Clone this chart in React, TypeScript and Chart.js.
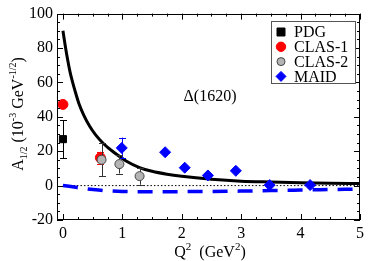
import React, { useEffect, useRef } from "react";
import { Chart, registerables } from "chart.js";

Chart.register(...registerables);

// ---- data ----
const pdgQ2 = [0];
const pdgA = [27];
const pdgErr = [11];

const clas1Q2 = [0, 0.63];
const clas1A = [47.2, 16.2];
const clas1Err = [0, 3.5];

const clas2Q2 = [0.65, 0.95, 1.29];
const clas2A = [15, 12.5, 5.5];
const clas2Err = [9.7, 5.5, 5];

const maidQ2 = [0.99, 1.72, 2.05, 2.44, 2.91, 3.48, 4.16];
const maidA = [21.9, 19.4, 10.4, 5.9, 8.6, 0.3, 0.3];
const maidErr = [6, 0, 0, 0, 0, 0, 0];

const fitQ2 = [0, 0.04, 0.08, 0.12, 0.16, 0.2, 0.27, 0.35, 0.45, 0.55, 0.68, 0.85, 1.07, 1.29, 1.5, 1.75, 2.0, 2.5, 3.0, 3.5, 4.0, 4.5, 5.0];
const fitA = [90, 81, 73, 66, 60.5, 55.5, 47.6, 41, 34.5, 29.5, 24.5, 19.5, 14.2, 10.5, 8.3, 6.6, 5.4, 3.7, 2.6, 2.1, 1.7, 1.4, 1.2];

const maidCurveQ2 = [0, 0.1, 0.25, 0.4, 0.6, 0.8, 1.0, 1.3, 1.7, 2.0, 2.5, 3.0, 3.5, 4.0, 4.5, 5.0];
const maidCurveA = [0, -0.4, -1.2, -1.9, -2.6, -3.1, -3.4, -3.6, -3.6, -3.5, -3.4, -3.2, -2.9, -2.6, -2.3, -2.0];

const zeroQ2 = [0, 5];
const zeroA = [0, 0];

const xTicks = [0, 1, 2, 3, 4, 5];
const yTicks = [-20, 0, 20, 40, 60, 80, 100];
const xMinorStep = 0.25;
const yMinorStep = 5;
const xRange = [-0.1, 5];
const yRange = [-20, 100];

const legendLabels = ["PDG", "CLAS-1", "CLAS-2", "MAID"];
const annotationText = "\u0394(1620)";

const SERIF = '"Liberation Serif", "Times New Roman", serif';

const pts = (xs: number[], ys: number[]) => xs.map((x, i) => ({ x, y: ys[i] }));

function drawMarker(ctx: CanvasRenderingContext2D, kind: string, x: number, y: number, r: number, fill: string, stroke: string) {
  ctx.save();
  ctx.fillStyle = fill;
  ctx.strokeStyle = stroke;
  ctx.lineWidth = 1;
  ctx.beginPath();
  if (kind === "rect") {
    ctx.rect(x - r, y - r, 2 * r, 2 * r);
  } else if (kind === "circle") {
    ctx.arc(x, y, r, 0, Math.PI * 2);
  } else {
    ctx.moveTo(x, y - r);
    ctx.lineTo(x + r, y);
    ctx.lineTo(x, y + r);
    ctx.lineTo(x - r, y);
    ctx.closePath();
  }
  ctx.fill();
  ctx.stroke();
  ctx.restore();
}

const errorBarPlugin = {
  id: "errorBars",
  beforeDatasetDraw(chart: any, args: any) {
    const ds = chart.data.datasets[args.index];
    if (!ds.errors) return;
    const ctx = chart.ctx;
    const xs = chart.scales.x;
    const ys = chart.scales.y;
    ctx.save();
    ctx.strokeStyle = ds.errorColor;
    ctx.lineWidth = 1;
    ds.data.forEach((p: any, i: number) => {
      const e = ds.errors[i];
      if (!e) return;
      const px = Math.round(xs.getPixelForValue(p.x)) + 0.5;
      const y1 = ys.getPixelForValue(p.y + e);
      const y2 = ys.getPixelForValue(p.y - e);
      ctx.beginPath();
      ctx.moveTo(px, y1);
      ctx.lineTo(px, y2);
      ctx.moveTo(px - 3.5, Math.round(y1) + 0.5);
      ctx.lineTo(px + 3.5, Math.round(y1) + 0.5);
      ctx.moveTo(px - 3.5, Math.round(y2) + 0.5);
      ctx.lineTo(px + 3.5, Math.round(y2) + 0.5);
      ctx.stroke();
    });
    ctx.restore();
  },
};

const framePlugin = {
  id: "frame",
  afterDraw(chart: any) {
    const ctx = chart.ctx;
    const { left, right, top, bottom } = chart.chartArea;
    const xs = chart.scales.x;
    const ys = chart.scales.y;
    ctx.save();
    ctx.strokeStyle = "#000";
    ctx.lineWidth = 1;
    ctx.strokeRect(Math.round(left) + 0.5, Math.round(top) + 0.5, Math.round(right - left) - 1, Math.round(bottom - top) - 1);
    ctx.beginPath();
    // x ticks
    const nx = Math.round((xRange[1] - 0) / xMinorStep);
    for (let k = 0; k <= nx; k++) {
      const v = k * xMinorStep;
      const major = xTicks.includes(v);
      const len = major ? 6 : 3;
      const px = Math.round(xs.getPixelForValue(v)) + 0.5;
      ctx.moveTo(px, bottom);
      ctx.lineTo(px, bottom - len);
      ctx.moveTo(px, top);
      ctx.lineTo(px, top + len);
    }
    const ny = Math.round((yRange[1] - yRange[0]) / yMinorStep);
    for (let k = 0; k <= ny; k++) {
      const v = yRange[0] + k * yMinorStep;
      const major = yTicks.includes(v);
      const len = major ? 6 : 3;
      const py = Math.round(ys.getPixelForValue(v)) + 0.5;
      ctx.moveTo(left, py);
      ctx.lineTo(left + len, py);
      ctx.moveTo(right, py);
      ctx.lineTo(right - len, py);
    }
    ctx.stroke();

    // legend
    const lx = 271.5, ly = 21.5, lw = 84, lh = 62;
    ctx.fillStyle = "#fff";
    ctx.fillRect(lx, ly, lw, lh);
    ctx.strokeStyle = "#555";
    ctx.strokeRect(lx, ly, lw, lh);
    const markers = [
      { kind: "rect", r: 4, fill: "#000", stroke: "#000" },
      { kind: "circle", r: 4.7, fill: "#ff0000", stroke: "#ff0000" },
      { kind: "circle", r: 4, fill: "#b4b4b4", stroke: "#444" },
      { kind: "diamond", r: 5, fill: "#0000ff", stroke: "#0000ff" },
    ];
    ctx.font = `16px ${SERIF}`;
    ctx.textBaseline = "middle";
    ctx.textAlign = "left";
    legendLabels.forEach((lab, i) => {
      const yy = 32 + i * 14.8;
      const m = markers[i];
      drawMarker(ctx, m.kind, 281, yy, m.r, m.fill, m.stroke);
      ctx.fillStyle = "#000";
      ctx.fillText(lab, 294, yy + 1);
    });

    // annotation
    ctx.textAlign = "center";
    ctx.fillText(annotationText, 210, 97);

    // x title with superscripts
    const drawRich = (segs: { t: string; s: number; dy: number }[], cx: number, baseY: number) => {
      let total = 0;
      segs.forEach((sg) => {
        ctx.font = `${sg.s}px ${SERIF}`;
        total += ctx.measureText(sg.t).width;
      });
      let x = cx - total / 2;
      ctx.textAlign = "left";
      ctx.textBaseline = "alphabetic";
      segs.forEach((sg) => {
        ctx.font = `${sg.s}px ${SERIF}`;
        ctx.fillText(sg.t, x, baseY + sg.dy);
        x += ctx.measureText(sg.t).width;
      });
    };
    ctx.fillStyle = "#000";
    drawRich(
      [
        { t: "Q", s: 16, dy: 0 },
        { t: "2", s: 11, dy: -7 },
        { t: "  (GeV", s: 16, dy: 0 },
        { t: "2", s: 11, dy: -7 },
        { t: ")", s: 16, dy: 0 },
      ],
      210,
      257
    );
    ctx.save();
    ctx.translate(22.5, 114);
    ctx.rotate(-Math.PI / 2);
    drawRich(
      [
        { t: "A", s: 16, dy: 0 },
        { t: "1/2", s: 10, dy: 4 },
        { t: " (10", s: 16, dy: 0 },
        { t: "-3", s: 10, dy: -7 },
        { t: " GeV", s: 16, dy: 0 },
        { t: "-1/2", s: 10, dy: -7 },
        { t: ")", s: 16, dy: 0 },
      ],
      0,
      0
    );
    ctx.restore();
    ctx.restore();
  },
};

export default function App() {
  const ref = useRef<HTMLCanvasElement | null>(null);
  useEffect(() => {
    if (!ref.current) return;
    const chart = new Chart(ref.current, {
      type: "scatter",
      data: {
        datasets: [
          {
            label: "CLAS-2",
            data: pts(clas2Q2, clas2A),
            pointStyle: "circle",
            pointRadius: 4.5,
            backgroundColor: "#b4b4b4",
            borderColor: "#444",
            borderWidth: 1,
            errors: clas2Err,
            errorColor: "#333",
          } as any,
          {
            label: "CLAS-1",
            data: pts(clas1Q2, clas1A),
            pointStyle: "circle",
            pointRadius: 5,
            backgroundColor: "#ff0000",
            borderColor: "#ff0000",
            borderWidth: 1,
            errors: clas1Err,
            errorColor: "#ff0000",
          } as any,
          {
            label: "PDG",
            data: pts(pdgQ2, pdgA),
            pointStyle: "rect",
            pointRadius: 5,
            backgroundColor: "#000",
            borderColor: "#000",
            borderWidth: 1,
            errors: pdgErr,
            errorColor: "#000",
          } as any,
          {
            label: "MAID",
            data: pts(maidQ2, maidA),
            pointStyle: "rectRot",
            pointRadius: 5.5,
            backgroundColor: "#0000ff",
            borderColor: "#0000ff",
            borderWidth: 1,
            errors: maidErr,
            errorColor: "#0000ff",
          } as any,
          {
            label: "fit",
            data: pts(fitQ2, fitA),
            showLine: true,
            pointRadius: 0,
            borderColor: "#000",
            borderWidth: 3,
            cubicInterpolationMode: "monotone",
          } as any,
          {
            label: "MAID curve",
            data: pts(maidCurveQ2, maidCurveA),
            showLine: true,
            pointRadius: 0,
            borderColor: "#0000ff",
            borderWidth: 3.5,
            borderDash: [15, 10],
            cubicInterpolationMode: "monotone",
          } as any,
          {
            label: "zero",
            data: pts(zeroQ2, zeroA),
            showLine: true,
            pointRadius: 0,
            borderColor: "#000",
            borderWidth: 1,
            borderDash: [1.5, 2],
          } as any,
        ],
      },
      options: {
        animation: false,
        responsive: false,
        layout: { padding: { top: 7, right: 5, left: 0, bottom: 0 } },
        plugins: { legend: { display: false }, tooltip: { enabled: false } },
        scales: {
          x: {
            type: "linear",
            min: xRange[0],
            max: xRange[1],
            grid: { display: false, drawTicks: false },
            border: { display: false },
            afterBuildTicks: (s: any) => {
              s.ticks = xTicks.map((v) => ({ value: v }));
            },
            afterFit: (s: any) => {
              s.height = 41;
            },
            ticks: { color: "#000", font: { family: SERIF, size: 16 }, padding: 4, maxRotation: 0, autoSkip: false },
          },
          y: {
            type: "linear",
            min: yRange[0],
            max: yRange[1],
            grid: { display: false, drawTicks: false },
            border: { display: false },
            afterBuildTicks: (s: any) => {
              s.ticks = yTicks.map((v) => ({ value: v }));
            },
            afterFit: (s: any) => {
              s.width = 57;
            },
            ticks: { color: "#000", font: { family: SERIF, size: 16 }, padding: 4, autoSkip: false },
          },
        },
      },
      plugins: [errorBarPlugin, framePlugin],
    } as any);
    return () => chart.destroy();
  }, []);
  return (
    <div style={{ position: "absolute", left: 0, top: 0, width: 368, height: 261 }}>
      <canvas ref={ref} width={368} height={261} />
    </div>
  );
}
